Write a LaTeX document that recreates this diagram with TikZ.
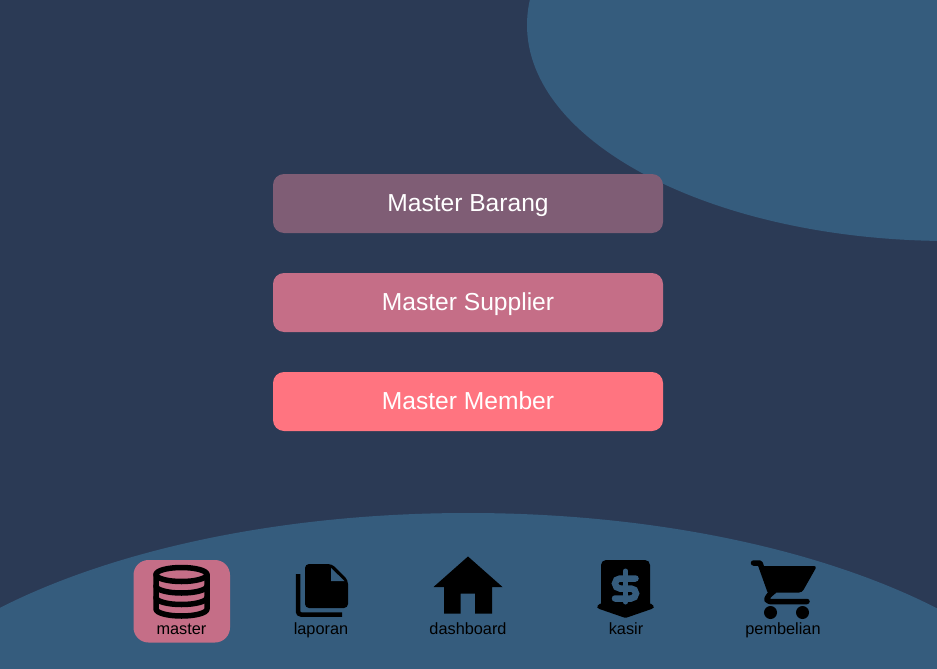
\documentclass[tikz,border=0pt]{standalone}
\usepackage{fontspec}
\setmainfont{Liberation Sans}
\definecolor{bgdark}{HTML}{2B3A55}
\definecolor{blob}{HTML}{355C7D}
\definecolor{btnone}{HTML}{7F5D75}
\definecolor{btntwo}{HTML}{C56E87}
\definecolor{btnthree}{HTML}{FF7480}
\definecolor{stripe}{HTML}{D3E0E8}
\begin{document}
\begin{tikzpicture}[
    x=1pt, y=-1pt,
    menubtn/.style={rectangle, rounded corners=11pt, minimum width=390pt, minimum height=59pt, inner sep=0pt, text=white, text height=19pt, text depth=3pt, font=\fontsize{24.6}{28}\selectfont},
    navlabel/.style={text=black, inner sep=0pt, anchor=base, font=\fontsize{16.3}{18}\selectfont},
    iconline/.style={draw=black, line width=5.5pt, line cap=round, line join=round}
]
\useasboundingbox (0,0) rectangle (937,669);

% Background
\fill[stripe] (0,0) rectangle (937,669);
\fill[bgdark] (0,0) rectangle (937,668);
\begin{scope}
\clip (0,0) rectangle (937,668);
\fill[blob] (950,25) ellipse [x radius=423pt, y radius=216pt];
\fill[blob] (468,793) ellipse [x radius=624pt, y radius=280pt];
\end{scope}

% Buttons
\node[menubtn, fill=btnone] (barang) at (468,203.5) {Master Barang};
\node[menubtn, fill=btntwo] (supplier) at (468,302.5) {Master Supplier};
\node[menubtn, fill=btnthree] (member) at (468,401.5) {Master Member};

% Highlight
\fill[btntwo, rounded corners=15pt] (133.5,560) rectangle (230,642.5);

% Labels
\node[navlabel] (master) at (181.5,634) {master};
\node[navlabel] (laporan) at (321,634) {laporan};
\node[navlabel] (dashboard) at (468,634) {dashboard};
\node[navlabel] (kasir) at (626,634) {kasir};
\node[navlabel] (pembelian) at (783,634) {pembelian};

% Database
\draw[iconline] (181.5,574.5) ellipse [x radius=25.5pt, y radius=7pt];
\draw[iconline] (156,574.5) -- (156,609) arc[start angle=180, end angle=360, x radius=25.5pt, y radius=7pt] -- (207,574.5);
\draw[iconline] (156,586) arc[start angle=180, end angle=360, x radius=25.5pt, y radius=7pt];
\draw[iconline] (156,597.5) arc[start angle=180, end angle=360, x radius=25.5pt, y radius=7pt];

% Documents
\draw[draw=black, line width=4.5pt, rounded corners=3pt] (298,574) -- (298,614.5) -- (342,614.5);
\fill[black, rounded corners=4pt] (305,564) -- (332,564) -- (348,580) -- (348,608) -- (305,608) -- cycle;
\fill[blob] (331,568) -- (331,581) -- (344.5,581) -- cycle;

% House
\fill[black] (468,556.5) -- (502.5,587) -- (492,587) -- (492,613.5) -- (475,613.5) -- (475,593.5) -- (460.5,593.5) -- (460.5,613.5) -- (444,613.5) -- (444,587) -- (433.5,587) -- cycle;

% Tag
\fill[black, rounded corners=5pt] (601,610) -- (601,560) -- (650,560) -- (650,610) -- cycle;
\fill[black, rounded corners=1.5pt] (601,603) -- (596.5,606.5) -- (598,608.5) -- (625.5,618) -- (653,608.5) -- (654.5,606.5) -- (650,603) -- cycle;
\draw[draw=blob, line width=5pt, line cap=round] (625.5,571) -- (625.5,602);
\draw[draw=blob, line width=6.5pt, line cap=round] (635.5,578.5) -- (620,578.5) arc[start angle=90, end angle=270, radius=5pt] -- (631,588.5) arc[start angle=90, end angle=-90, radius=5pt] -- (615,598.5);

% Cart
\fill[black, rounded corners=3pt] (760,566) -- (817,566) -- (802,592.5) -- (769,592.5) -- cycle;
\draw[iconline] (753.5,563) -- (760,563) -- (770,591);
\draw[iconline, rounded corners=3pt] (774,591) -- (767,597) -- (767,601.5) -- (807,601.5);
\fill[black] (770.5,612.5) circle (6.5pt);
\fill[black] (802.5,612.5) circle (6.5pt);
\end{tikzpicture}
\end{document}
